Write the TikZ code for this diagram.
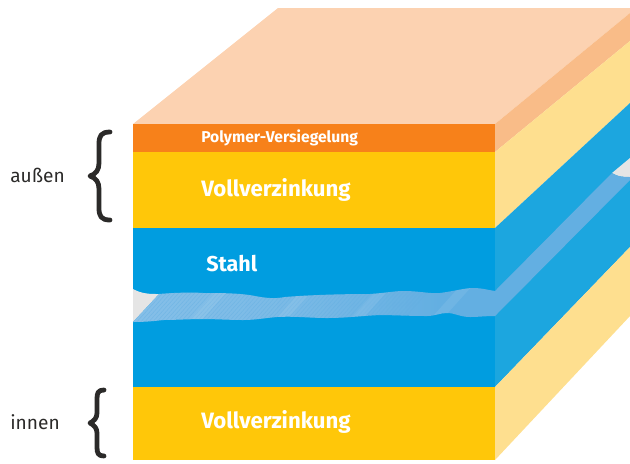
\documentclass[tikz,border=0pt]{standalone}
\usepackage{fontspec}
\setmainfont{Fira Sans}
\definecolor{orangefront}{HTML}{F7811A}
\definecolor{orangeside}{HTML}{F9BC88}
\definecolor{topface}{HTML}{FCD2B1}
\definecolor{zincfront}{HTML}{FFC709}
\definecolor{zincside}{HTML}{FEDF8F}
\definecolor{steelfront}{HTML}{009DE0}
\definecolor{steelside}{HTML}{1CA6DF}
\definecolor{bandcolor}{HTML}{63AFE2}
\definecolor{bandlight}{HTML}{85BFE8}
\definecolor{graygap}{HTML}{E5E5E5}
\definecolor{bracecolor}{HTML}{2B2A29}
\tikzset{
    layerlabel/.style={anchor=west, text=white, font=\bfseries\fontsize{15.8}{18}\selectfont, inner sep=0},
    sidelabel/.style={anchor=west, text=bracecolor, font=\fontsize{13.6}{15}\selectfont, inner sep=0},
    bracket/.style={draw=bracecolor, line width=3.4pt, line cap=round, line join=round}
}
\begin{document}
\begin{tikzpicture}[x=0.025cm, y=-0.025cm]
    \useasboundingbox (0,0) rectangle (630,463);

    % top and side faces
    \fill[topface] (133,124) -- (278,8) -- (630,8) -- (630,13) -- (495,124) -- cycle;
    \fill[orangeside] (495,124) -- (630,13) -- (630,41) -- (495,152) -- cycle;
    \fill[zincside] (495,152) -- (630,41) -- (630,103) -- (495,228) -- cycle;
    \fill[steelside] (495,228) -- (630,103) -- (630,247) -- (495,387) -- cycle;
    \fill[zincside] (495,387) -- (630,247) -- (630,316) -- (495,460) -- cycle;

    % front layers
    \fill[orangefront] (133,124) rectangle (495,152);
    \fill[zincfront] (133,152) rectangle (495,228);
    \fill[steelfront] (133,228) rectangle (495,387);
    \fill[zincfront] (133,387) rectangle (495,460);

    % gaps in the steel
    \fill[graygap] (133,289) .. controls (142,294) and (150,294) .. (159,294) -- (133,322) -- cycle;
    \fill[graygap] (630,158) -- (612,173) .. controls (618,177) and (624,177) .. (630,177) -- cycle;

    % band through the steel
    \fill[bandcolor] (495,291) -- (612,173) .. controls (618,177) and (624,177) .. (630,177)
        -- (630,180) -- (495,316) -- cycle;
    \begin{scope}
        \clip (159,294) .. controls (170,293) and (190,292) .. (203,293)
            .. controls (220,293) and (240,293) .. (255,296)
            .. controls (265,298) and (275,299) .. (285,297)
            .. controls (310,295) and (340,294) .. (370,294)
            .. controls (385,293) and (395,291) .. (403,291)
            .. controls (420,291) and (430,294) .. (440,293)
            .. controls (455,291) and (465,288) .. (473,288)
            .. controls (482,288) and (488,290) .. (495,291)
            -- (495,316) .. controls (485,316) and (478,317) .. (470,317)
            .. controls (460,317) and (455,313) .. (447,313)
            .. controls (440,313) and (435,316) .. (427,316)
            .. controls (410,316) and (390,315) .. (380,315)
            .. controls (360,316) and (345,318) .. (327,318)
            .. controls (310,318) and (295,316) .. (277,317)
            .. controls (265,318) and (255,320) .. (243,320)
            .. controls (230,320) and (215,319) .. (203,319)
            .. controls (190,319) and (175,320) .. (163,320)
            .. controls (155,321) and (145,322) .. (133,322) -- cycle;
        \shade[left color=bandlight, right color=bandcolor, middle color=bandlight!70!bandcolor]
            (133,285) rectangle (440,325);
        \fill[bandcolor] (440,285) rectangle (495,325);
        % hatching and streaks
        \foreach \xpos in {130,134,...,400}
            \draw[bandcolor, line width=0.3pt, opacity=0.6] (\xpos,325) -- (\xpos+36,285);
        \foreach \xpos in {185,270,345,425}
            \fill[white, opacity=0.08] (\xpos,325) -- (\xpos+12,325) -- (\xpos+48,285) -- (\xpos+36,285) -- cycle;
    \end{scope}

    % labels on the layers
    \node[layerlabel, font=\bfseries\fontsize{11.15}{13}\selectfont] (polymer) at (201,138) {Polymer-Versiegelung};
    \node[layerlabel] (zincouter) at (201,190) {Vollverzinkung};
    \node[layerlabel, font=\bfseries\fontsize{15.3}{18}\selectfont] (steel) at (206,264) {Stahl};
    \node[layerlabel] (zincinner) at (201,422) {Vollverzinkung};

    % braces
    \draw[bracket] (110,132) .. controls (101,132) and (99,136) .. (99,144)
        -- (99,163) .. controls (99,170) and (96,174) .. (90,176)
        .. controls (96,178) and (99,182) .. (99,189)
        -- (99,208) .. controls (99,216) and (101,220) .. (110,220);
    \draw[bracket] (104,390) .. controls (98,390) and (97,393) .. (97,399)
        -- (97,413) .. controls (97,418) and (94,421) .. (90,423)
        .. controls (94,425) and (97,428) .. (97,433)
        -- (97,447) .. controls (97,453) and (98,456) .. (104,456);

    \node[sidelabel] (outer) at (10,175) {außen};
    \node[sidelabel] (inner) at (10,422) {innen};
\end{tikzpicture}
\end{document}
